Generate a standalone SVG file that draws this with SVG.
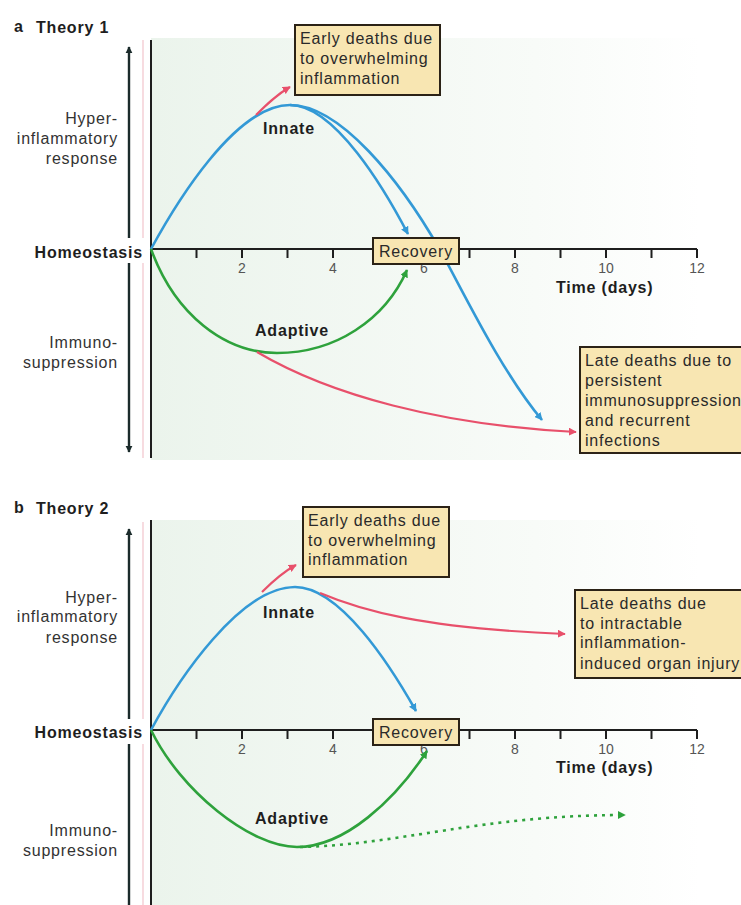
<svg xmlns="http://www.w3.org/2000/svg" width="741" height="905" viewBox="0 0 741 905">
<style>
.t{font-family:"Liberation Sans",Arial,sans-serif;font-size:16px;fill:#2a2a2a;letter-spacing:0.8px}
.b{font-weight:bold;fill:#1e1e1e}
.lab{fill:#333}
.tick{font-size:14px;fill:#555;text-anchor:middle;letter-spacing:0}
.box{fill:#f8e6b2;stroke:#2b2216;stroke-width:2}
.blue{fill:none;stroke:#3399d6;stroke-width:2.6}
.green{fill:none;stroke:#2ea23c;stroke-width:2.6}
.red{fill:none;stroke:#e8506b;stroke-width:2.2}
.axis{stroke:#1e1e1e;stroke-width:2;fill:none}
.vax{stroke:#1b2b2b;stroke-width:2.4;fill:none}
.pink{stroke:#f2c4cc;stroke-width:1.2}
</style>
<defs>
<linearGradient id="bg" x1="151" y1="0" x2="700" y2="0" gradientUnits="userSpaceOnUse">
<stop offset="0" stop-color="#ebf4ec"/>
<stop offset="0.7" stop-color="#f8fbf8"/>
<stop offset="1" stop-color="#ffffff"/>
</linearGradient>
<marker id="aB" viewBox="0 0 10 10" refX="9" refY="5" markerWidth="8" markerHeight="8" markerUnits="userSpaceOnUse" orient="auto"><path d="M0,0L10,5L0,10z" fill="#3399d6"/></marker>
<marker id="aG" viewBox="0 0 10 10" refX="9" refY="5" markerWidth="8" markerHeight="8" markerUnits="userSpaceOnUse" orient="auto"><path d="M0,0L10,5L0,10z" fill="#2ea23c"/></marker>
<marker id="aR" viewBox="0 0 10 10" refX="9" refY="5" markerWidth="8" markerHeight="8" markerUnits="userSpaceOnUse" orient="auto"><path d="M0,0L10,5L0,10z" fill="#e8506b"/></marker>
<marker id="aK" viewBox="0 0 10 10" refX="9" refY="5" markerWidth="7" markerHeight="8" markerUnits="userSpaceOnUse" orient="auto-start-reverse"><path d="M0,0L10,5L0,10z" fill="#1b2b2b"/></marker>
</defs>
<rect width="741" height="905" fill="#ffffff"/>

<!-- Panel a -->
<g id="panel-a">
<rect x="151" y="38" width="590" height="422" fill="url(#bg)"/>
<text class="t b" x="14" y="32" font-size="14">a</text>
<text class="t b" x="36" y="33" font-size="16.5" letter-spacing="0.3">Theory 1</text>
<line class="pink" x1="143" y1="40" x2="143" y2="458"/>
<line class="vax" x1="129" y1="47" x2="129" y2="452" marker-start="url(#aK)" marker-end="url(#aK)"/>
<line class="axis" x1="151" y1="40" x2="151" y2="458"/>
<g id="a-xaxis">
<line class="axis" x1="151" y1="249" x2="697" y2="249"/>
<path class="axis" stroke-width="1.6" d="M196.5,249v9M242,249v9M287.5,249v9M333,249v9M378.5,249v9M424,249v9M469.5,249v9M515,249v9M560.5,249v9M606,249v9M651.5,249v9M697,249v9"/>
<text class="t tick" x="242" y="273">2</text>
<text class="t tick" x="333" y="273">4</text>
<text class="t tick" x="424" y="273">6</text>
<text class="t tick" x="515" y="273">8</text>
<text class="t tick" x="606" y="273">10</text>
<text class="t tick" x="697" y="273">12</text>
<text class="t b" x="556" y="293" font-size="16.5" letter-spacing="0.3">Time (days)</text>
</g>
<g id="a-ylabels">
<rect x="28" y="238" width="119" height="25" fill="#ffffff"/>
<text class="t b" x="143" y="258" text-anchor="end" font-size="16.5" letter-spacing="0">Homeostasis</text>
<text class="t lab" x="118" y="124" text-anchor="end">Hyper-</text>
<text class="t lab" x="118" y="144" text-anchor="end">inflammatory</text>
<text class="t lab" x="118" y="164" text-anchor="end">response</text>
<text class="t lab" x="118" y="348" text-anchor="end">Immuno-</text>
<text class="t lab" x="118" y="368" text-anchor="end">suppression</text>
</g>
<g id="a-connectors">
<path class="blue" d="M151,249 C175,205 235,105 290,105"/>
<path class="blue" d="M290,105 C335,105 385,190 408,234" marker-end="url(#aB)"/>
<path class="blue" d="M290,105 C340,105 400,180 440,250 C460,285 500,370 542,420" marker-end="url(#aB)"/>
<path class="red" d="M256,115 C266,105 276,95 290,87" marker-end="url(#aR)"/>
<path class="green" d="M151,249 C175,315 225,353 277,353 C335,353 385,320 407,270" marker-end="url(#aG)"/>
<path class="red" d="M257,352 C330,395 440,425 576,432" marker-end="url(#aR)"/>
</g>
<text class="t b" x="289" y="134" text-anchor="middle">Innate</text>
<text class="t b" x="292" y="336" text-anchor="middle">Adaptive</text>
<g id="a-early">
<rect class="box" x="295" y="25" width="145" height="70"/>
<text class="t" x="300" y="44">Early deaths due</text>
<text class="t" x="300" y="64">to overwhelming</text>
<text class="t" x="300" y="84">inflammation</text>
</g>
<g id="a-recovery">
<rect class="box" x="373" y="238" width="86" height="26"/>
<text class="t" x="416" y="257" text-anchor="middle">Recovery</text>
</g>
<g id="a-late">
<rect class="box" x="580" y="347" width="180" height="106"/>
<text class="t" x="585" y="366">Late deaths due to</text>
<text class="t" x="585" y="386">persistent</text>
<text class="t" x="585" y="406">immunosuppression</text>
<text class="t" x="585" y="426">and recurrent</text>
<text class="t" x="585" y="446">infections</text>
</g>
</g>

<!-- Panel b -->
<g id="panel-b">
<rect x="151" y="520" width="590" height="385" fill="url(#bg)"/>
<text class="t b" x="14" y="513" font-size="16">b</text>
<text class="t b" x="36" y="514" font-size="16.5" letter-spacing="0.3">Theory 2</text>
<line class="pink" x1="143" y1="522" x2="143" y2="905"/>
<line class="vax" x1="129" y1="529" x2="129" y2="905" marker-start="url(#aK)"/>
<line class="axis" x1="151" y1="520" x2="151" y2="905"/>
<g id="b-xaxis">
<line class="axis" x1="151" y1="730" x2="697" y2="730"/>
<path class="axis" stroke-width="1.6" d="M196.5,730v9M242,730v9M287.5,730v9M333,730v9M378.5,730v9M424,730v9M469.5,730v9M515,730v9M560.5,730v9M606,730v9M651.5,730v9M697,730v9"/>
<text class="t tick" x="242" y="754">2</text>
<text class="t tick" x="333" y="754">4</text>
<text class="t tick" x="424" y="754">6</text>
<text class="t tick" x="515" y="754">8</text>
<text class="t tick" x="606" y="754">10</text>
<text class="t tick" x="697" y="754">12</text>
<text class="t b" x="556" y="773" font-size="16.5" letter-spacing="0.3">Time (days)</text>
</g>
<g id="b-ylabels">
<rect x="28" y="719" width="119" height="25" fill="#ffffff"/>
<text class="t b" x="143" y="738" text-anchor="end" font-size="16.5" letter-spacing="0">Homeostasis</text>
<text class="t lab" x="118" y="603" text-anchor="end">Hyper-</text>
<text class="t lab" x="118" y="622" text-anchor="end">inflammatory</text>
<text class="t lab" x="118" y="643" text-anchor="end">response</text>
<text class="t lab" x="118" y="836" text-anchor="end">Immuno-</text>
<text class="t lab" x="118" y="856" text-anchor="end">suppression</text>
</g>
<g id="b-connectors">
<path class="blue" d="M151,730 C178,680 240,587 295,587 C340,587 390,665 416,711" marker-end="url(#aB)"/>
<path class="red" d="M262,592 C272,582 283,572 296,565" marker-end="url(#aR)"/>
<path class="red" d="M320,593 C360,610 420,628 565,634" marker-end="url(#aR)"/>
<path class="green" d="M151,730 C180,790 250,847 297,847 C345,847 395,800 427,751" marker-end="url(#aG)"/>
<path class="green" stroke-dasharray="3 5" d="M300,847 C400,845 480,815 625,815" marker-end="url(#aG)"/>
</g>
<text class="t b" x="289" y="618" text-anchor="middle">Innate</text>
<text class="t b" x="292" y="824" text-anchor="middle">Adaptive</text>
<g id="b-early">
<rect class="box" x="303" y="507" width="146" height="70"/>
<text class="t" x="308" y="526">Early deaths due</text>
<text class="t" x="308" y="546">to overwhelming</text>
<text class="t" x="308" y="565">inflammation</text>
</g>
<g id="b-recovery">
<rect class="box" x="373" y="719" width="86" height="26"/>
<text class="t" x="416" y="738" text-anchor="middle">Recovery</text>
</g>
<g id="b-late">
<rect class="box" x="575" y="590" width="185" height="88"/>
<text class="t" x="580" y="609">Late deaths due</text>
<text class="t" x="580" y="629">to intractable</text>
<text class="t" x="580" y="648">inflammation-</text>
<text class="t" x="580" y="669">induced organ injury</text>
</g>
</g>
</svg>
